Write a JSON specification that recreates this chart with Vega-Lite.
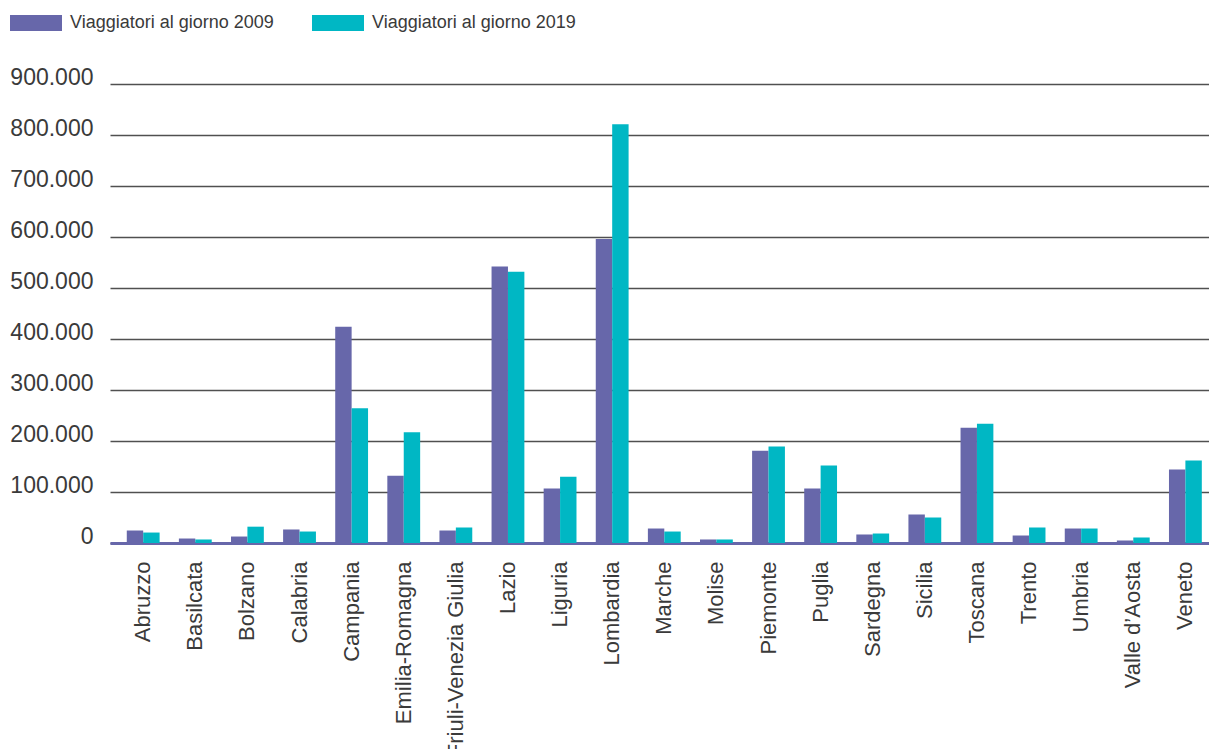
{
  "$schema": "https://vega.github.io/schema/vega-lite/v6.json",
  "autosize": {"type": "none"},
  "width": 1099,
  "height": 459,
  "padding": {"left": 110, "top": 84, "right": 0, "bottom": 206},
  "background": "white",
  "config": {
    "view": {"stroke": null},
    "font": "Liberation Sans"
  },
  "data": {
    "values": [
      {"regione": "Abruzzo", "serie": "Viaggiatori al giorno 2009", "valore": 24500},
      {"regione": "Abruzzo", "serie": "Viaggiatori al giorno 2019", "valore": 20500},
      {"regione": "Basilcata", "serie": "Viaggiatori al giorno 2009", "valore": 8800},
      {"regione": "Basilcata", "serie": "Viaggiatori al giorno 2019", "valore": 6900},
      {"regione": "Bolzano", "serie": "Viaggiatori al giorno 2009", "valore": 12700},
      {"regione": "Bolzano", "serie": "Viaggiatori al giorno 2019", "valore": 32000},
      {"regione": "Calabria", "serie": "Viaggiatori al giorno 2009", "valore": 26500},
      {"regione": "Calabria", "serie": "Viaggiatori al giorno 2019", "valore": 22500},
      {"regione": "Campania", "serie": "Viaggiatori al giorno 2009", "valore": 424000},
      {"regione": "Campania", "serie": "Viaggiatori al giorno 2019", "valore": 264000},
      {"regione": "Emilia-Romagna", "serie": "Viaggiatori al giorno 2009", "valore": 132000},
      {"regione": "Emilia-Romagna", "serie": "Viaggiatori al giorno 2019", "valore": 217000},
      {"regione": "Friuli-Venezia Giulia", "serie": "Viaggiatori al giorno 2009", "valore": 24500},
      {"regione": "Friuli-Venezia Giulia", "serie": "Viaggiatori al giorno 2019", "valore": 30400},
      {"regione": "Lazio", "serie": "Viaggiatori al giorno 2009", "valore": 542000},
      {"regione": "Lazio", "serie": "Viaggiatori al giorno 2019", "valore": 532000},
      {"regione": "Liguria", "serie": "Viaggiatori al giorno 2009", "valore": 107000},
      {"regione": "Liguria", "serie": "Viaggiatori al giorno 2019", "valore": 130000},
      {"regione": "Lombardia", "serie": "Viaggiatori al giorno 2009", "valore": 596000},
      {"regione": "Lombardia", "serie": "Viaggiatori al giorno 2019", "valore": 821000},
      {"regione": "Marche", "serie": "Viaggiatori al giorno 2009", "valore": 28400},
      {"regione": "Marche", "serie": "Viaggiatori al giorno 2019", "valore": 22500},
      {"regione": "Molise", "serie": "Viaggiatori al giorno 2009", "valore": 6900},
      {"regione": "Molise", "serie": "Viaggiatori al giorno 2019", "valore": 6900},
      {"regione": "Piemonte", "serie": "Viaggiatori al giorno 2009", "valore": 181000},
      {"regione": "Piemonte", "serie": "Viaggiatori al giorno 2019", "valore": 189000},
      {"regione": "Puglia", "serie": "Viaggiatori al giorno 2009", "valore": 107000},
      {"regione": "Puglia", "serie": "Viaggiatori al giorno 2019", "valore": 152000},
      {"regione": "Sardegna", "serie": "Viaggiatori al giorno 2009", "valore": 16700},
      {"regione": "Sardegna", "serie": "Viaggiatori al giorno 2019", "valore": 18600},
      {"regione": "Sicilia", "serie": "Viaggiatori al giorno 2009", "valore": 55900},
      {"regione": "Sicilia", "serie": "Viaggiatori al giorno 2019", "valore": 50000},
      {"regione": "Toscana", "serie": "Viaggiatori al giorno 2009", "valore": 226000},
      {"regione": "Toscana", "serie": "Viaggiatori al giorno 2019", "valore": 234000},
      {"regione": "Trento", "serie": "Viaggiatori al giorno 2009", "valore": 14700},
      {"regione": "Trento", "serie": "Viaggiatori al giorno 2019", "valore": 30400},
      {"regione": "Umbria", "serie": "Viaggiatori al giorno 2009", "valore": 28400},
      {"regione": "Umbria", "serie": "Viaggiatori al giorno 2019", "valore": 28400},
      {"regione": "Valle d’Aosta", "serie": "Viaggiatori al giorno 2009", "valore": 4900},
      {"regione": "Valle d’Aosta", "serie": "Viaggiatori al giorno 2019", "valore": 10800},
      {"regione": "Veneto", "serie": "Viaggiatori al giorno 2009", "valore": 144000},
      {"regione": "Veneto", "serie": "Viaggiatori al giorno 2019", "valore": 162000}
    ]
  },
  "mark": {"type": "bar"},
  "encoding": {
    "x": {
      "field": "regione",
      "type": "nominal",
      "sort": null,
      "title": null,
      "scale": {"paddingInner": 0.37, "paddingOuter": 0.23, "align": 0.7},
      "axis": {
        "labelAngle": -90,
        "labelAlign": "right",
        "labelBaseline": "middle",
        "labelFontSize": 22,
        "labelColor": "#3a3a3a",
        "labelPadding": 18,
        "ticks": false,
        "domainColor": "#6767aa",
        "domainWidth": 3,
        "labelOverlap": false,
        "labelLimit": 0
      }
    },
    "xOffset": {"field": "serie", "type": "nominal", "scale": {"paddingInner": 0, "paddingOuter": 0}},
    "y": {
      "field": "valore",
      "type": "quantitative",
      "title": null,
      "scale": {"domain": [0, 900000], "nice": false},
      "axis": {
        "values": [0, 100000, 200000, 300000, 400000, 500000, 600000, 700000, 800000, 900000],
        "labelExpr": "replace(format(datum.value, ','), ',', '.')",
        "labelFontSize": 23,
        "labelColor": "#3a3a3a",
        "labelPadding": 17,
        "labelBaseline": "alphabetic",
        "ticks": false,
        "domain": false,
        "gridColor": "#505050",
        "gridWidth": 1.5
      }
    },
    "color": {
      "field": "serie",
      "type": "nominal",
      "title": null,
      "scale": {"range": ["#6767aa", "#00b7c4"]},
      "legend": {
        "orient": "none",
        "direction": "horizontal",
        "legendX": -100,
        "legendY": -87,
        "padding": 0,
        "symbolType": "M-1,-0.3077H1V0.3077H-1Z",
        "symbolSize": 2704,
        "symbolStrokeWidth": 0,
        "symbolOpacity": 1,
        "labelFontSize": 18,
        "labelColor": "#3a3a3a",
        "labelOffset": 8,
        "columnPadding": 38,
        "labelLimit": 0
      }
    }
  }
}
